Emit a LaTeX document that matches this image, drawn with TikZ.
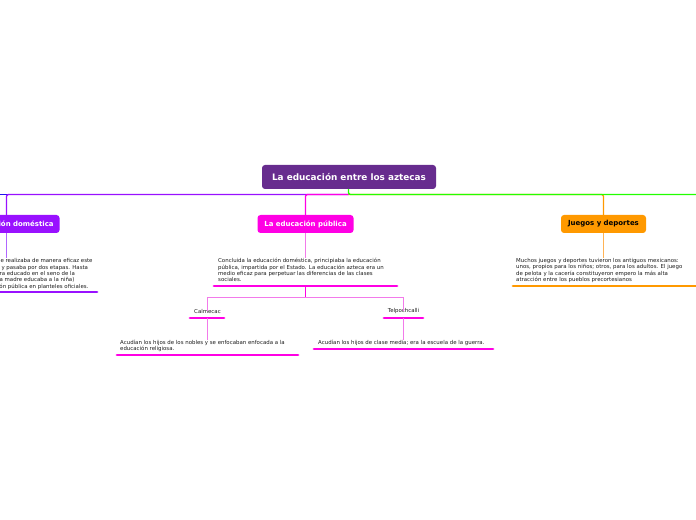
\documentclass[tikz,border=0pt]{standalone}
\usepackage{fontspec}
\setmainfont{DejaVu Sans}
\definecolor{croot}{HTML}{672C8E}
\definecolor{cdom}{HTML}{9911FF}
\definecolor{cpub}{HTML}{FF00E4}
\definecolor{cjue}{HTML}{FF9900}
\definecolor{cgreen}{HTML}{22FF00}
\definecolor{cblue}{HTML}{2211EE}
\definecolor{ldom}{HTML}{B066FF}
\definecolor{lpub}{HTML}{F27AEA}
\definecolor{ljue}{HTML}{FFB355}
\definecolor{ctext}{HTML}{1A1A1A}
\begin{document}
\begin{tikzpicture}[x=1bp,y=-1bp,
  rootbox/.style={rounded corners=3bp,fill=croot,text=white,font=\bfseries\fontsize{8.9}{10}\selectfont,minimum width=174bp,minimum height=24bp,inner sep=0},
  topicbox/.style={rounded corners=3bp,text=white,font=\bfseries\fontsize{7}{8}\selectfont,minimum height=18bp,inner sep=0},
  para/.style={anchor=north west,inner sep=0,align=left,text=ctext,font=\fontsize{5.45}{6.5}\selectfont},
  lbl/.style={inner sep=0,text=ctext,font=\fontsize{5.45}{6.5}\selectfont},
  branch/.style={line width=1.3bp,rounded corners=2bp},
  stem/.style={line width=1bp},
  uline/.style={line width=2.8bp,line cap=round}]
\useasboundingbox (0,0) rectangle (696,520);
\clip (0,0) rectangle (696,520);

% main nodes
\node[rootbox] (root) at (349,177) {La educación entre los aztecas};
\node[topicbox,fill=cdom,minimum width=106bp] (dom) at (6.5,224) {La educación doméstica};
\node[topicbox,fill=cpub,minimum width=96bp] (pub) at (305.5,224) {La educación pública};
\node[topicbox,fill=cjue,text=black,minimum width=85bp] (jue) at (603.5,224) {Juegos y deportes};

% hub and free ends
\coordinate (hub) at (348.5,194.5);
\coordinate (leftend) at (-20,194.5);
\coordinate (rightend) at (720,194.5);

\draw[branch,cblue] (hub) -- (leftend);
\draw[branch,cdom] (hub) -- (dom.north |- hub) -- (dom.north);
\draw[branch,cpub] (hub) -- (pub.north |- hub) -- (pub.north);
\draw[branch,cjue] (hub) -- (jue.north |- hub) -- (jue.north);
\draw[branch,cgreen] (root.south -| hub) -- (hub) -- (rightend);

% paragraphs
\node[para] (domtxt) at (-70,258) {La educación doméstica se realizaba de manera eficaz este\\proceso era muy riguroso y pasaba por dos etapas. Hasta\\los catorce años el niño era educado en el seno de la\\familia (el padre al niño, la madre educaba a la niña)\\y luego recibía la educación pública en planteles oficiales.};
\node[para] (pubtxt) at (218,258) {Concluida la educación doméstica, principiaba la educación\\pública, impartida por el Estado. La educación azteca era un\\medio eficaz para perpetuar las diferencias de las clases\\sociales.};
\node[para] (juetxt) at (516,258) {Muchos juegos y deportes tuvieron los antiguos mexicanos:\\unos, propios para los niños; otros, para los adultos. El juego\\de pelota y la cacería constituyeron empero la más alta\\atracción entre los pueblos precortesianos};

% stems from topics to paragraphs
\draw[stem,ldom] (dom.south) -- (dom.south |- domtxt.north);
\draw[stem,lpub] (pub.south) -- (pub.south |- pubtxt.north);
\draw[stem,ljue] (jue.south) -- (jue.south |- juetxt.north);

% underlines
\coordinate (domA) at (-90,292); \coordinate (domB) at (97,292);
\coordinate (pubA) at (214,286); \coordinate (pubB) at (397,286);
\coordinate (jueA) at (513,286); \coordinate (jueB) at (710,286);
\draw[uline,cdom] (domA) -- (domB);
\draw[uline,cpub] (pubA) -- (pubB);
\draw[uline,cjue] (jueA) -- (jueB);

% sub topics
\node[lbl] (cal) at (207.5,311.5) {Calmecac};
\node[lbl] (tel) at (403.5,311.5) {Telpochcalli};
\coordinate (calA) at (190,318); \coordinate (calB) at (224,318);
\coordinate (telA) at (384,318); \coordinate (telB) at (423,318);
\draw[uline,cpub] (calA) -- (calB);
\draw[uline,cpub] (telA) -- (telB);

\coordinate (subhub) at (305.5,297.5);
\draw[stem,cpub] (pub.south |- pubB) -- (subhub);
\draw[stem,lpub] (subhub) -- (cal.north |- subhub) -- ([yshift=-2bp]cal.north);
\draw[stem,lpub] (subhub) -- (tel.north |- subhub) -- ([yshift=-2bp]tel.north);

\node[para] (caltxt) at (120,339.5) {Acudían los hijos de los nobles y se enfocaban enfocada a la\\educación religiosa.};
\node[para] (teltxt) at (318,339.5) {Acudían los hijos de clase media; era la escuela de la guerra.};
\draw[stem,lpub] (cal.south |- calA) -- (cal.south |- caltxt.north);
\draw[stem,lpub] (tel.south |- telA) -- (tel.south |- teltxt.north);

\coordinate (ctA) at (117,355); \coordinate (ctB) at (298,355);
\coordinate (ttA) at (314,349); \coordinate (ttB) at (493,349);
\draw[uline,cpub] (ctA) -- (ctB);
\draw[uline,cpub] (ttA) -- (ttB);
\end{tikzpicture}
\end{document}
